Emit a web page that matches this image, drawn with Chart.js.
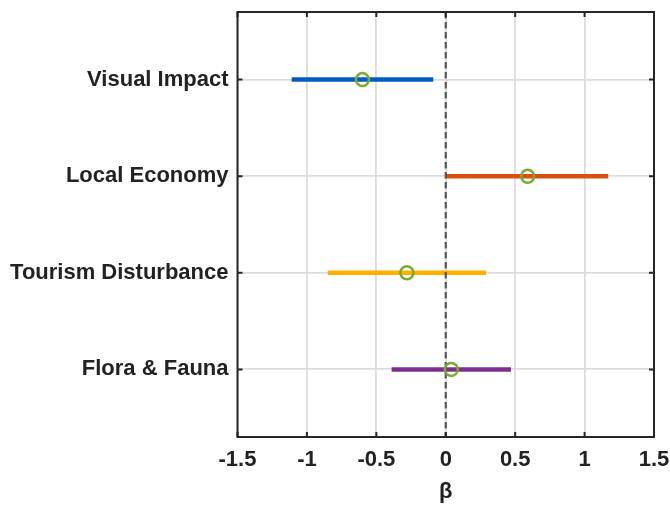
<!DOCTYPE html>
<html>
<head>
<meta charset="utf-8">
<script src="https://cdn.jsdelivr.net/npm/chart.js@4/dist/chart.umd.min.js"></script>
<style>
  html, body { margin: 0; padding: 0; background: #ffffff; }
  #wrap { width: 670px; height: 505px; }
</style>
</head>
<body>
<div id="wrap"><canvas id="c" width="670" height="505"></canvas></div>
<script>
// ---- Data ----
const categories = ["Visual Impact", "Local Economy", "Tourism Disturbance", "Flora & Fauna"];
const estimates  = [-0.60, 0.59, -0.28, 0.04];
const lowerCI    = [-1.11, 0.00, -0.85, -0.39];
const upperCI    = [-0.09, 1.17, 0.29, 0.47];
const seriesColors = ["#005CBE", "#D9500F", "#FDB000", "#7E2F8E"];
const markerColor = "#77AC30";
const xTickValues = [-1.5, -1, -0.5, 0, 0.5, 1, 1.5];
const xTickLabels = ["-1.5", "-1", "-0.5", "0", "0.5", "1", "1.5"];
const xAxisTitle = "β";
const yMin = 0.3, yMax = 4.7;

const FONT = { family: "'Liberation Sans', Arial, Helvetica, sans-serif", size: 22, weight: "bold" };
const TEXT_COLOR = "#222222";

// ---- Build datasets ----
const datasets = [];
categories.forEach((name, i) => {
  datasets.push({
    type: "line",
    label: name,
    data: [{ x: lowerCI[i], y: i + 1 }, { x: upperCI[i], y: i + 1 }],
    borderColor: seriesColors[i],
    borderWidth: 4.5,
    pointRadius: 0,
    borderCapStyle: "butt",
    order: 3
  });
});
datasets.push({
  type: "line",
  label: "zero",
  data: [{ x: 0, y: yMin }, { x: 0, y: yMax }],
  borderColor: "#555555",
  borderWidth: 2.2,
  borderDash: [6.5, 3.5],
  pointRadius: 0,
  order: 2
});
datasets.push({
  type: "scatter",
  label: "estimate",
  data: estimates.map((v, i) => ({ x: v, y: i + 1 })),
  pointStyle: "circle",
  pointRadius: 6.5,
  pointBorderWidth: 2.5,
  pointBorderColor: markerColor,
  pointBackgroundColor: "rgba(0,0,0,0)",
  borderColor: markerColor,
  backgroundColor: "rgba(0,0,0,0)",
  order: 1
});

// ---- Frame + inward ticks (MATLAB box) ----
const framePlugin = {
  id: "frame",
  afterDatasetsDraw(chart) {
    const { ctx, chartArea: a, scales } = chart;
    ctx.save();
    ctx.strokeStyle = "#262626";
    ctx.lineWidth = 2;
    ctx.beginPath();
    const tl = 5;
    xTickValues.forEach(v => {
      const px = scales.x.getPixelForValue(v);
      ctx.moveTo(px, a.top); ctx.lineTo(px, a.top + tl);
      ctx.moveTo(px, a.bottom); ctx.lineTo(px, a.bottom - tl);
    });
    categories.forEach((_, i) => {
      const py = scales.y.getPixelForValue(i + 1);
      ctx.moveTo(a.left, py); ctx.lineTo(a.left + tl, py);
      ctx.moveTo(a.right, py); ctx.lineTo(a.right - tl, py);
    });
    ctx.stroke();
    ctx.strokeRect(a.left, a.top, a.right - a.left, a.bottom - a.top);
    ctx.restore();
  }
};

const bgPlugin = {
  id: "bg",
  beforeDraw(chart) {
    const { ctx } = chart;
    ctx.save();
    ctx.fillStyle = "#ffffff";
    ctx.fillRect(0, 0, chart.width, chart.height);
    ctx.restore();
  }
};

new Chart(document.getElementById("c"), {
  data: { datasets },
  options: {
    responsive: false,
    animation: false,
    layout: { padding: { top: 12, right: 16, bottom: 0, left: 0 } },
    plugins: { legend: { display: false }, tooltip: { enabled: false } },
    scales: {
      x: {
        type: "linear",
        min: -1.5, max: 1.5,
        afterBuildTicks(scale) { scale.ticks = xTickValues.map(v => ({ value: v })); },
        afterFit(scale) { scale.height = 68; scale.paddingLeft = 0; scale.paddingRight = 0; },
        ticks: {
          callback: (v) => { const k = xTickValues.indexOf(v); return k >= 0 ? xTickLabels[k] : ""; },
          font: FONT, color: TEXT_COLOR, padding: 10, maxRotation: 0, autoSkip: false
        },
        grid: { color: "#dcdcdc", lineWidth: 1.8, drawTicks: false },
        border: { display: false },
        title: { display: true, text: xAxisTitle, font: FONT, color: TEXT_COLOR, padding: { top: 0, bottom: 0 } }
      },
      y: {
        type: "linear",
        reverse: true,
        min: yMin, max: yMax,
        afterBuildTicks(scale) { scale.ticks = categories.map((_, i) => ({ value: i + 1 })); },
        afterFit(scale) { scale.width = 237.5; scale.paddingTop = 0; scale.paddingBottom = 0; },
        ticks: {
          callback: (v) => categories[v - 1] || "",
          font: FONT, color: TEXT_COLOR, padding: 9, autoSkip: false
        },
        grid: { color: "#dcdcdc", lineWidth: 1.8, drawTicks: false },
        border: { display: false }
      }
    }
  },
  plugins: [bgPlugin, framePlugin]
});
</script>
</body>
</html>
